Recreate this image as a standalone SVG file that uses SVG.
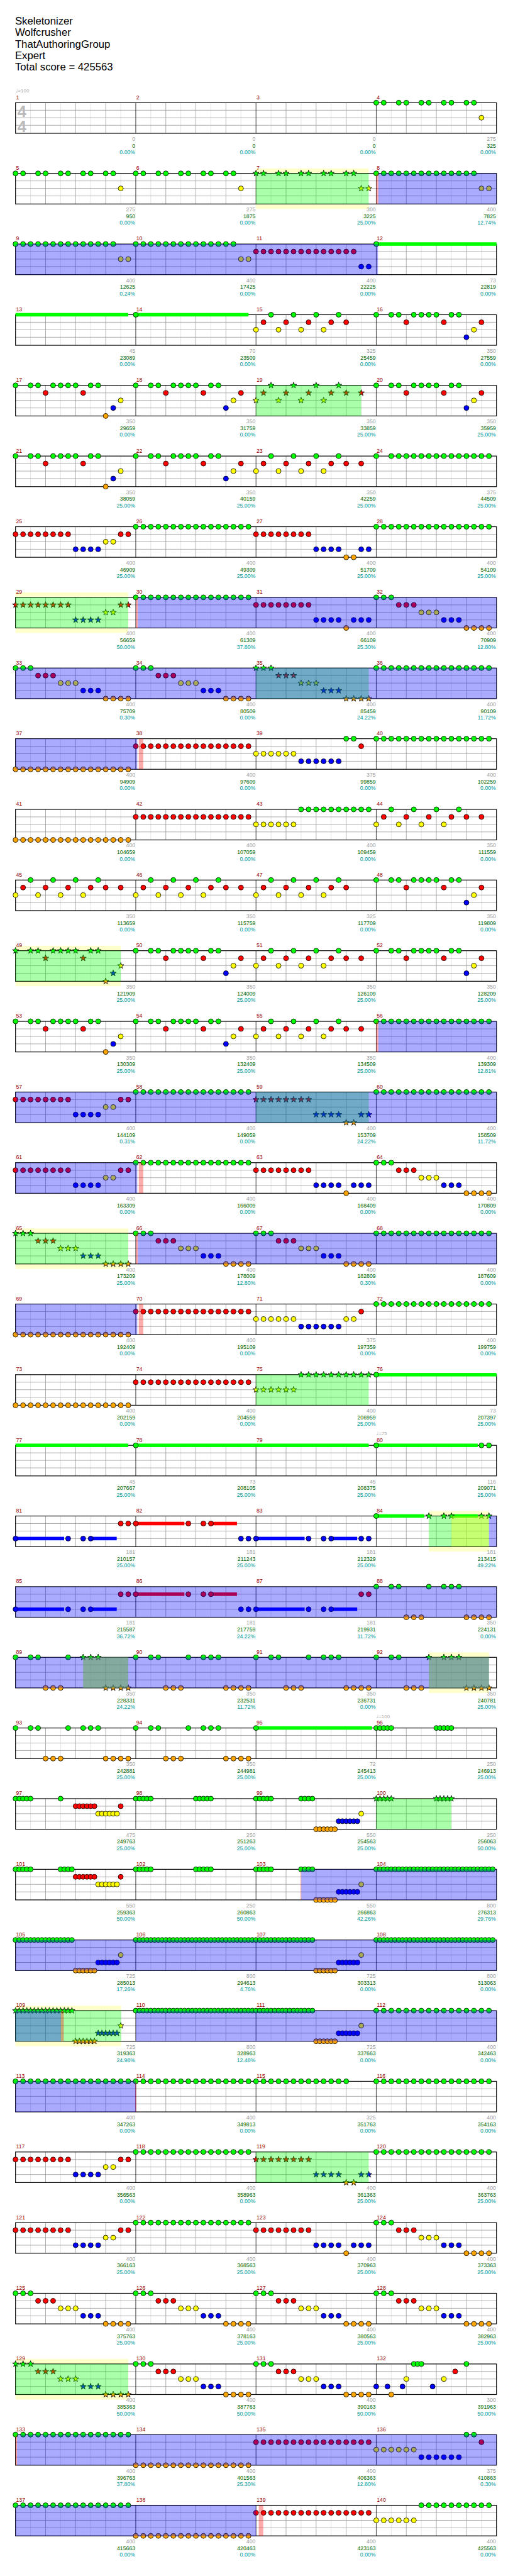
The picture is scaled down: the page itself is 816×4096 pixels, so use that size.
<svg xmlns="http://www.w3.org/2000/svg" width="816" height="4096" viewBox="0 0 816 4096">
<style>
text{font-family:"Liberation Sans",Arial,sans-serif}
.h{font-size:21px;fill:#000}
.mn{font-size:11px;fill:#990000}
.a,.b,.p{font-size:11px;text-anchor:end}
.a{fill:#a0a0a0}.b{fill:#006600}.p{fill:#009999}
.tp{font-size:10px;fill:#aaa}
.ts{font-size:32px;fill:#bbb;font-weight:bold}
.n{stroke:#000;stroke-width:1}
.cg{fill:#0f0}.cr{fill:#f00}.cy{fill:#ff0}.cb{fill:#00f}.co{fill:#ffa500}
.ob{fill:#00f;fill-opacity:.333}.og{fill:#0f0;fill-opacity:.333}.oy{fill:#ff0;fill-opacity:.333}.or{fill:#f00;fill-opacity:.333}
.hl{fill:#ffc}
</style>
<defs>
<circle id="c" r="5"/>
<polygon id="s" points="0,-6.5 1.53,-2.1 6.18,-2 2.47,.8 3.82,5.26 0,2.6 -3.82,5.26 -2.47,.8 -6.18,-2 -1.53,-2.1"/>
<use id="g" href="#c" class="n cg"/><use id="r" href="#c" y="15" class="n cr"/><use id="y" href="#c" y="30" class="n cy"/><use id="b" href="#c" y="45" class="n cb"/><use id="o" href="#c" y="61" class="n co"/>
<use id="G" href="#s" class="n cg"/><use id="R" href="#s" y="15" class="n cr"/><use id="Y" href="#s" y="30" class="n cy"/><use id="B" href="#s" y="45" class="n cb"/><use id="O" href="#s" y="61" class="n co"/>
<g id="g2"><use href="#g"/><use href="#g" x="15"/></g><g id="g4"><use href="#g2"/><use href="#g2" x="30"/></g>
<g id="r2"><use href="#r"/><use href="#r" x="15"/></g><g id="r4"><use href="#r2"/><use href="#r2" x="30"/></g>
<g id="y2"><use href="#y"/><use href="#y" x="15"/></g>
<g id="b2"><use href="#b"/><use href="#b" x="15"/></g><g id="b4"><use href="#b2"/><use href="#b2" x="30"/></g>
<g id="o2"><use href="#o"/><use href="#o" x="15"/></g><g id="o4"><use href="#o2"/><use href="#o2" x="30"/></g>
<g id="G2"><use href="#G"/><use href="#G" x="15"/></g><g id="G4"><use href="#G2"/><use href="#G2" x="30"/></g>
<g id="R2"><use href="#R"/><use href="#R" x="15"/></g><g id="R4"><use href="#R2"/><use href="#R2" x="30"/></g>
<g id="Y2"><use href="#Y"/><use href="#Y" x="15"/></g>
<g id="B2"><use href="#B"/><use href="#B" x="15"/></g><g id="B4"><use href="#B2"/><use href="#B2" x="30"/></g>
<g id="O2"><use href="#O"/><use href="#O" x="15"/></g><g id="O4"><use href="#O2"/><use href="#O2" x="30"/></g>
<g id="fG"><use href="#g4"/><use href="#g4" x="60"/><use href="#g4" x="120"/><use href="#g4" x="180"/></g>
<g id="fR"><use href="#r4"/><use href="#r4" x="60"/><use href="#r4" x="120"/><use href="#r4" x="180"/></g>
<g id="fO"><use href="#o4"/><use href="#o4" x="60"/><use href="#o4" x="120"/><use href="#o4" x="180"/></g>
<g id="pA"><use href="#g2"/><use href="#g2" x="45"/><use href="#g2" x="90"/><use href="#g2" x="135"/><use href="#g2" x="180"/><use href="#y" x="210"/></g>
<g id="pAs"><use href="#G2"/><use href="#G2" x="45"/><use href="#G2" x="90"/><use href="#G2" x="135"/><use href="#G2" x="180"/><use href="#Y2" x="210"/></g>
<g id="g8"><use href="#g4"/><use href="#g4" x="60"/><use href="#g4" x="120"/><use href="#g2" x="180"/><use href="#y2" x="210"/></g>
<g id="r11"><use href="#r4"/><use href="#r4" x="60"/><use href="#r4" x="120"/><use href="#r2" x="180"/><use href="#b2" x="210"/></g>
<g id="pB"><use href="#g"/><use href="#g2" x="30"/><use href="#g4" x="75"/><use href="#g2" x="150"/><use href="#r" x="60"/><use href="#r" x="135"/><use href="#r" x="210"/><use href="#b" x="180"/><use href="#y" x="195"/></g>
<g id="pC"><use href="#g"/><use href="#g2" x="30"/><use href="#g4" x="75"/><use href="#g2" x="150"/><use href="#r" x="60"/><use href="#r" x="135"/><use href="#o" x="180"/><use href="#b" x="195"/><use href="#y" x="210"/></g>
<g id="pCs"><use href="#G"/><use href="#G2" x="30"/><use href="#G4" x="75"/><use href="#G2" x="150"/><use href="#R" x="60"/><use href="#R" x="135"/><use href="#O" x="180"/><use href="#B" x="195"/><use href="#Y" x="210"/></g>
<g id="pE"><use href="#y"/><use href="#y" x="45"/><use href="#y" x="90"/><use href="#y" x="135"/><use href="#r" x="15"/><use href="#r" x="60"/><use href="#r" x="105"/><use href="#r" x="150"/><use href="#r" x="180"/><use href="#g" x="30"/><use href="#g" x="75"/><use href="#g" x="120"/><use href="#g" x="165"/></g>
<g id="pD"><use href="#pE"/><use href="#r" x="210"/></g>
<g id="pDs"><use href="#Y"/><use href="#Y" x="45"/><use href="#Y" x="90"/><use href="#Y" x="135"/><use href="#R" x="15"/><use href="#R" x="60"/><use href="#R" x="105"/><use href="#R" x="150"/><use href="#R" x="180"/><use href="#R" x="210"/><use href="#G" x="30"/><use href="#G" x="75"/><use href="#G" x="120"/><use href="#G" x="165"/></g>
<g id="pF"><use href="#r4"/><use href="#r4" x="60"/><use href="#b4" x="120"/><use href="#y2" x="180"/><use href="#r2" x="210"/></g>
<g id="pFs"><use href="#R4"/><use href="#R4" x="60"/><use href="#B4" x="120"/><use href="#Y2" x="180"/><use href="#R2" x="210"/></g>
<g id="pG"><use href="#r4"/><use href="#r4" x="60"/><use href="#b4" x="120"/><use href="#o2" x="180"/><use href="#b2" x="210"/></g>
<g id="pGs"><use href="#R4"/><use href="#R4" x="60"/><use href="#B4" x="120"/><use href="#O2" x="180"/><use href="#B2" x="210"/></g>
<g id="pH"><use href="#r4"/><use href="#r4" x="60"/><use href="#b4" x="120"/><use href="#o" x="180"/><use href="#b" x="195"/><use href="#b2" x="210"/></g>
<g id="pI"><use href="#g2"/><use href="#g" x="30"/><use href="#r" x="45"/><use href="#r2" x="60"/><use href="#y2" x="90"/><use href="#y" x="120"/><use href="#b" x="135"/><use href="#b2" x="150"/><use href="#o4" x="180"/></g>
<g id="pIs"><use href="#G2"/><use href="#G" x="30"/><use href="#R" x="45"/><use href="#R2" x="60"/><use href="#Y2" x="90"/><use href="#Y" x="120"/><use href="#B" x="135"/><use href="#B2" x="150"/><use href="#O4" x="180"/></g>
<g id="pK"><use href="#y2"/><use href="#y2" x="30"/><use href="#y2" x="60"/><use href="#b2" x="90"/><use href="#b2" x="120"/><use href="#b2" x="150"/><use href="#g2" x="180"/><use href="#r" x="210"/></g>
<g id="pK2"><use href="#y2"/><use href="#y2" x="30"/><use href="#y2" x="60"/><use href="#b2" x="90"/><use href="#b2" x="120"/><use href="#b2" x="150"/><use href="#y2" x="180"/><use href="#r" x="210"/></g>
<g id="pL"><use href="#y2"/><use href="#y2" x="30"/><use href="#y2" x="60"/><use href="#g2" x="90"/><use href="#g4" x="120"/><use href="#g4" x="180"/></g>
<g id="pM"><use href="#g"/><use href="#g2" x="30"/><use href="#g" x="105"/><use href="#g" x="135"/><use href="#g2" x="150"/><use href="#o" x="60"/><use href="#o2" x="75"/><use href="#o4" x="180"/></g>
<g id="pN"><use href="#g"/><use href="#g2" x="30"/><use href="#g4" x="60"/><use href="#g4" x="120"/><use href="#g4" x="180"/></g>
<g id="pP"><rect class="cb" y="41.5" width="97" height="7"/><rect class="cb" x="150" y="41.5" width="52" height="7"/><use href="#b"/><use href="#b" x="105"/><use href="#b" x="135"/><use href="#b" x="150"/><use href="#r2" x="210"/></g>
<g id="pQ"><rect class="cr" y="11.5" width="97" height="7"/><rect class="cr" x="150" y="11.5" width="52" height="7"/><use href="#r"/><use href="#r" x="105"/><use href="#r" x="135"/><use href="#r" x="150"/><use href="#b2" x="210"/></g>
<g id="pR"><rect class="cb" y="41.5" width="97" height="7"/><rect class="cb" x="150" y="41.5" width="52" height="7"/><use href="#b"/><use href="#b" x="105"/><use href="#b" x="135"/><use href="#b" x="150"/><use href="#b2" x="210"/></g>
<g id="g4h"><use href="#g"/><use href="#g" x="7.5"/><use href="#g" x="15"/><use href="#g" x="22.5"/></g>
<g id="gq"><use href="#g4h"/><use href="#g" x="30"/></g>
<g id="g16h"><use href="#g4h"/><use href="#g4h" x="30"/><use href="#g4h" x="60"/><use href="#g4h" x="90"/></g>
<g id="G4h"><use href="#G"/><use href="#G" x="7.5"/><use href="#G" x="15"/><use href="#G" x="22.5"/></g>
<g id="Gq"><use href="#G4h"/><use href="#G" x="30"/></g>
<g id="G16h"><use href="#G4h"/><use href="#G4h" x="30"/><use href="#G4h" x="60"/><use href="#G4h" x="90"/></g>
<g id="r6h"><use href="#r"/><use href="#r" x="7.5"/><use href="#r" x="15"/><use href="#r" x="22.5"/><use href="#r" x="30"/><use href="#r" x="37.5"/></g>
<g id="y6h"><use href="#y"/><use href="#y" x="7.5"/><use href="#y" x="15"/><use href="#y" x="22.5"/><use href="#y" x="30"/><use href="#y" x="37.5"/></g>
<g id="o6h"><use href="#o"/><use href="#o" x="7.5"/><use href="#o" x="15"/><use href="#o" x="22.5"/><use href="#o" x="30"/><use href="#o" x="37.5"/></g>
<g id="b6h"><use href="#b"/><use href="#b" x="7.5"/><use href="#b" x="15"/><use href="#b" x="22.5"/><use href="#b" x="30"/><use href="#b" x="37.5"/></g>
<g id="O6h"><use href="#O"/><use href="#O" x="7.5"/><use href="#O" x="15"/><use href="#O" x="22.5"/><use href="#O" x="30"/><use href="#O" x="37.5"/></g>
<g id="B6h"><use href="#B"/><use href="#B" x="7.5"/><use href="#B" x="15"/><use href="#B" x="22.5"/><use href="#B" x="30"/><use href="#B" x="37.5"/></g>
<g id="q0"><use href="#gq"/><use href="#gq" x="120"/></g>
<g id="q0s"><use href="#Gq"/><use href="#Gq" x="120"/></g>
<g id="q1"><use href="#gq"/><use href="#g" x="90"/><use href="#r6h" x="120"/><use href="#y6h" x="165"/><use href="#r" x="210"/></g>
<g id="q1b"><use href="#gq"/><use href="#g4h" x="90"/><use href="#r6h" x="120"/><use href="#y6h" x="165"/><use href="#r" x="210"/></g>
<g id="q2"><use href="#gq"/><use href="#g4h" x="90"/><use href="#o6h" x="120"/><use href="#b6h" x="165"/><use href="#y" x="210"/></g>
<g id="F32"><use href="#g16h"/><use href="#g16h" x="120"/></g>
<g id="q3"><use href="#g16h"/><use href="#o6h" x="120"/><use href="#b6h" x="165"/><use href="#y" x="210"/></g>
<g id="q3s"><use href="#G16h"/><use href="#O6h" x="120"/><use href="#B6h" x="165"/><use href="#Y" x="210"/></g>
<g id="staff">
<rect x="31" width="960" height="61" fill="#fff"/>
<path d="M61 0V61M121 0V61M181 0V61M241 0V61M301 0V61M361 0V61M421 0V61M481 0V61M541 0V61M601 0V61M661 0V61M721 0V61M781 0V61M841 0V61M901 0V61M961 0V61" stroke="#ddd"/>
<path d="M91 0V61M151 0V61M211 0V61M331 0V61M391 0V61M451 0V61M571 0V61M631 0V61M691 0V61M811 0V61M871 0V61M931 0V61M31 15H991M31 30H991M31 45H991" stroke="#999"/>
<path d="M271 0V61M511 0V61M751 0V61" stroke="#000"/>
<rect x="31" width="960" height="61" fill="none" stroke="#000" stroke-width="1.5"/>
</g>
</defs>
<rect width="816" height="4096" fill="#fff"/>
<g transform="scale(0.796875)">
<g id="header">
<text class="h" x="30" y="49">Skeletonizer</text>
<text class="h" x="30" y="72">Wolfcrusher</text>
<text class="h" x="30" y="95">ThatAuthoringGroup</text>
<text class="h" x="30" y="118">Expert</text>
<text class="h" x="30" y="141">Total score = 425563</text>
</g>

<g id="row0" transform="translate(0,205)">
<use href="#staff"/>
<text class="tp" x="31" y="-20"><tspan font-family="DejaVu Sans">♩</tspan>=100</text>
<text class="ts" x="35" y="28">4</text><text class="ts" x="35" y="58">4</text>
<text class="mn" x="32" y="-7">1</text><text class="mn" x="272" y="-7">2</text><text class="mn" x="512" y="-7">3</text><text class="mn" x="752" y="-7">4</text>
<use id="m4" href="#pA" x="751"/>
<text class="a" x="270" y="76">0</text><text class="b" x="270" y="89.5">0</text><text class="p" x="270" y="102.5">0.00%</text>
<text class="a" x="510" y="76">0</text><text class="b" x="510" y="89.5">0</text><text class="p" x="510" y="102.5">0.00%</text>
<text class="a" x="750" y="76">0</text><text class="b" x="750" y="89.5">0</text><text class="p" x="750" y="102.5">0.00%</text>
<text class="a" x="990" y="76">275</text><text class="b" x="990" y="89.5">325</text><text class="p" x="990" y="102.5">0.00%</text>
</g>

<g id="row1" transform="translate(0,346)">
<rect class="hl" x="511" y="-10" width="225" height="81"/>
<use href="#staff"/>
<text class="mn" x="32" y="-7">5</text><text class="mn" x="272" y="-7">6</text><text class="mn" x="512" y="-7">7</text><text class="mn" x="752" y="-7">8</text>
<use id="m5" href="#pA" x="31"/><use id="m6" href="#pA" x="271"/><use id="m7" href="#pAs" x="511"/><use id="m8" href="#g8" x="751"/>
<rect class="og" x="511" width="225" height="61"/><rect class="or" x="751" width="4" height="61"/><rect class="ob" x="755" width="236" height="61"/>
<text class="a" x="270" y="76">275</text><text class="b" x="270" y="89.5">950</text><text class="p" x="270" y="102.5">0.00%</text>
<text class="a" x="510" y="76">275</text><text class="b" x="510" y="89.5">1875</text><text class="p" x="510" y="102.5">0.00%</text>
<text class="a" x="750" y="76">300</text><text class="b" x="750" y="89.5">3225</text><text class="p" x="750" y="102.5">25.00%</text>
<text class="a" x="990" y="76">400</text><text class="b" x="990" y="89.5">7825</text><text class="p" x="990" y="102.5">12.74%</text>
</g>

<g id="row2" transform="translate(0,487)">
<use href="#staff"/>
<text class="mn" x="32" y="-7">9</text><text class="mn" x="272" y="-7">10</text><text class="mn" x="512" y="-7">11</text><text class="mn" x="752" y="-7">12</text>
<use id="m9" href="#g8" x="31"/><use id="m10" href="#g8" x="271"/><use id="m11" href="#r11" x="511"/>
<g id="m12"><rect class="cg" x="751" y="-3.5" width="240" height="7"/><use href="#g" x="751"/></g>
<rect class="ob" x="31" width="723.5" height="61"/>
<text class="a" x="270" y="76">400</text><text class="b" x="270" y="89.5">12625</text><text class="p" x="270" y="102.5">0.24%</text>
<text class="a" x="510" y="76">400</text><text class="b" x="510" y="89.5">17425</text><text class="p" x="510" y="102.5">0.00%</text>
<text class="a" x="750" y="76">400</text><text class="b" x="750" y="89.5">22225</text><text class="p" x="750" y="102.5">0.00%</text>
<text class="a" x="990" y="76">73</text><text class="b" x="990" y="89.5">22819</text><text class="p" x="990" y="102.5">0.00%</text>
</g>

<g id="row3" transform="translate(0,628)">
<use href="#staff"/>
<text class="mn" x="32" y="-7">13</text><text class="mn" x="272" y="-7">14</text><text class="mn" x="512" y="-7">15</text><text class="mn" x="752" y="-7">16</text>
<rect id="m13" class="cg" x="31" y="-3.5" width="225" height="7"/>
<g id="m14"><rect class="cg" x="271" y="-3.5" width="225" height="7"/><use href="#g" x="271"/></g>
<use id="m15" href="#pE" x="511"/><use id="m16" href="#pB" x="751"/>
<text class="a" x="270" y="76">45</text><text class="b" x="270" y="89.5">23089</text><text class="p" x="270" y="102.5">0.00%</text>
<text class="a" x="510" y="76">70</text><text class="b" x="510" y="89.5">23509</text><text class="p" x="510" y="102.5">0.00%</text>
<text class="a" x="750" y="76">325</text><text class="b" x="750" y="89.5">25459</text><text class="p" x="750" y="102.5">0.00%</text>
<text class="a" x="990" y="76">350</text><text class="b" x="990" y="89.5">27559</text><text class="p" x="990" y="102.5">0.00%</text>
</g>

<g id="row4" transform="translate(0,769)">
<use href="#staff"/>
<text class="mn" x="32" y="-7">17</text><text class="mn" x="272" y="-7">18</text><text class="mn" x="512" y="-7">19</text><text class="mn" x="752" y="-7">20</text>
<use id="m17" href="#pC" x="31"/><use id="m18" href="#pB" x="271"/><use id="m19" href="#pDs" x="511"/><use id="m20" href="#pB" x="751"/>
<rect class="og" x="511" width="210" height="61"/>
<text class="a" x="270" y="76">350</text><text class="b" x="270" y="89.5">29659</text><text class="p" x="270" y="102.5">0.00%</text>
<text class="a" x="510" y="76">350</text><text class="b" x="510" y="89.5">31759</text><text class="p" x="510" y="102.5">0.00%</text>
<text class="a" x="750" y="76">350</text><text class="b" x="750" y="89.5">33859</text><text class="p" x="750" y="102.5">25.00%</text>
<text class="a" x="990" y="76">350</text><text class="b" x="990" y="89.5">35959</text><text class="p" x="990" y="102.5">25.00%</text>
</g>

<g id="row5" transform="translate(0,910)">
<use href="#staff"/>
<text class="mn" x="32" y="-7">21</text><text class="mn" x="272" y="-7">22</text><text class="mn" x="512" y="-7">23</text><text class="mn" x="752" y="-7">24</text>
<use id="m21" href="#pC" x="31"/><use id="m22" href="#pB" x="271"/><use id="m23" href="#pD" x="511"/><use id="m24" href="#pN" x="751"/>
<text class="a" x="270" y="76">350</text><text class="b" x="270" y="89.5">38059</text><text class="p" x="270" y="102.5">25.00%</text>
<text class="a" x="510" y="76">350</text><text class="b" x="510" y="89.5">40159</text><text class="p" x="510" y="102.5">25.00%</text>
<text class="a" x="750" y="76">350</text><text class="b" x="750" y="89.5">42259</text><text class="p" x="750" y="102.5">25.00%</text>
<text class="a" x="990" y="76">375</text><text class="b" x="990" y="89.5">44509</text><text class="p" x="990" y="102.5">25.00%</text>
</g>

<g id="row6" transform="translate(0,1051)">
<use href="#staff"/>
<text class="mn" x="32" y="-7">25</text><text class="mn" x="272" y="-7">26</text><text class="mn" x="512" y="-7">27</text><text class="mn" x="752" y="-7">28</text>
<use id="m25" href="#pF" x="31"/><use id="m26" href="#fG" x="271"/><use id="m27" href="#pG" x="511"/><use id="m28" href="#fG" x="751"/>
<text class="a" x="270" y="76">400</text><text class="b" x="270" y="89.5">46909</text><text class="p" x="270" y="102.5">25.00%</text>
<text class="a" x="510" y="76">400</text><text class="b" x="510" y="89.5">49309</text><text class="p" x="510" y="102.5">25.00%</text>
<text class="a" x="750" y="76">400</text><text class="b" x="750" y="89.5">51709</text><text class="p" x="750" y="102.5">25.00%</text>
<text class="a" x="990" y="76">400</text><text class="b" x="990" y="89.5">54109</text><text class="p" x="990" y="102.5">25.00%</text>
</g>

<g id="row7" transform="translate(0,1192)">
<rect class="hl" x="31" y="-10" width="225" height="81"/>
<use href="#staff"/>
<text class="mn" x="32" y="-7">29</text><text class="mn" x="272" y="-7">30</text><text class="mn" x="512" y="-7">31</text><text class="mn" x="752" y="-7">32</text>
<use id="m29" href="#pFs" x="31"/><use id="m30" href="#fG" x="271"/><use id="m31" href="#pH" x="511"/><use id="m32" href="#pI" x="751"/>
<rect class="og" x="31" width="225" height="61"/><rect class="or" x="271" width="4" height="61"/><rect class="ob" x="275" width="716" height="61"/>
<text class="a" x="270" y="76">400</text><text class="b" x="270" y="89.5">56659</text><text class="p" x="270" y="102.5">50.00%</text>
<text class="a" x="510" y="76">400</text><text class="b" x="510" y="89.5">61309</text><text class="p" x="510" y="102.5">37.80%</text>
<text class="a" x="750" y="76">400</text><text class="b" x="750" y="89.5">66109</text><text class="p" x="750" y="102.5">25.30%</text>
<text class="a" x="990" y="76">400</text><text class="b" x="990" y="89.5">70909</text><text class="p" x="990" y="102.5">12.80%</text>
</g>

<g id="row8" transform="translate(0,1333)">
<use href="#staff"/>
<text class="mn" x="32" y="-7">33</text><text class="mn" x="272" y="-7">34</text><text class="mn" x="512" y="-7">35</text><text class="mn" x="752" y="-7">36</text>
<use id="m33" href="#pI" x="31"/><use id="m34" href="#pI" x="271"/><use id="m35" href="#pIs" x="511"/><use id="m36" href="#fG" x="751"/>
<rect class="og" x="511" width="225" height="61"/><rect class="ob" x="31" width="960" height="61"/>
<text class="a" x="270" y="76">400</text><text class="b" x="270" y="89.5">75709</text><text class="p" x="270" y="102.5">0.30%</text>
<text class="a" x="510" y="76">400</text><text class="b" x="510" y="89.5">80509</text><text class="p" x="510" y="102.5">0.00%</text>
<text class="a" x="750" y="76">400</text><text class="b" x="750" y="89.5">85459</text><text class="p" x="750" y="102.5">24.22%</text>
<text class="a" x="990" y="76">400</text><text class="b" x="990" y="89.5">90109</text><text class="p" x="990" y="102.5">11.72%</text>
</g>

<g id="row9" transform="translate(0,1474)">
<use href="#staff"/>
<text class="mn" x="32" y="-7">37</text><text class="mn" x="272" y="-7">38</text><text class="mn" x="512" y="-7">39</text><text class="mn" x="752" y="-7">40</text>
<use id="m37" href="#fO" x="31"/><use id="m38" href="#fR" x="271"/><use id="m39" href="#pK" x="511"/><use id="m40" href="#fG" x="751"/>
<rect class="ob" x="31" width="243" height="61"/><rect class="or" x="277" width="9" height="61"/>
<text class="a" x="270" y="76">400</text><text class="b" x="270" y="89.5">94909</text><text class="p" x="270" y="102.5">0.00%</text>
<text class="a" x="510" y="76">400</text><text class="b" x="510" y="89.5">97609</text><text class="p" x="510" y="102.5">0.00%</text>
<text class="a" x="750" y="76">375</text><text class="b" x="750" y="89.5">99859</text><text class="p" x="750" y="102.5">0.00%</text>
<text class="a" x="990" y="76">400</text><text class="b" x="990" y="89.5">102259</text><text class="p" x="990" y="102.5">0.00%</text>
</g>

<g id="row10" transform="translate(0,1615)">
<use href="#staff"/>
<text class="mn" x="32" y="-7">41</text><text class="mn" x="272" y="-7">42</text><text class="mn" x="512" y="-7">43</text><text class="mn" x="752" y="-7">44</text>
<use id="m41" href="#fO" x="31"/><use id="m42" href="#fR" x="271"/><use id="m43" href="#pL" x="511"/><use id="m44" href="#pD" x="751"/>
<text class="a" x="270" y="76">400</text><text class="b" x="270" y="89.5">104659</text><text class="p" x="270" y="102.5">0.00%</text>
<text class="a" x="510" y="76">400</text><text class="b" x="510" y="89.5">107059</text><text class="p" x="510" y="102.5">0.00%</text>
<text class="a" x="750" y="76">400</text><text class="b" x="750" y="89.5">109459</text><text class="p" x="750" y="102.5">0.00%</text>
<text class="a" x="990" y="76">350</text><text class="b" x="990" y="89.5">111559</text><text class="p" x="990" y="102.5">0.00%</text>
</g>

<g id="row11" transform="translate(0,1756)">
<use href="#staff"/>
<text class="mn" x="32" y="-7">45</text><text class="mn" x="272" y="-7">46</text><text class="mn" x="512" y="-7">47</text><text class="mn" x="752" y="-7">48</text>
<use id="m45" href="#pD" x="31"/><use id="m46" href="#pD" x="271"/><use id="m47" href="#pE" x="511"/><use id="m48" href="#pB" x="751"/>
<text class="a" x="270" y="76">350</text><text class="b" x="270" y="89.5">113659</text><text class="p" x="270" y="102.5">0.00%</text>
<text class="a" x="510" y="76">350</text><text class="b" x="510" y="89.5">115759</text><text class="p" x="510" y="102.5">0.00%</text>
<text class="a" x="750" y="76">325</text><text class="b" x="750" y="89.5">117709</text><text class="p" x="750" y="102.5">0.00%</text>
<text class="a" x="990" y="76">350</text><text class="b" x="990" y="89.5">119809</text><text class="p" x="990" y="102.5">0.00%</text>
</g>

<g id="row12" transform="translate(0,1897)">
<rect class="hl" x="31" y="-10" width="210" height="81"/>
<use href="#staff"/>
<text class="mn" x="32" y="-7">49</text><text class="mn" x="272" y="-7">50</text><text class="mn" x="512" y="-7">51</text><text class="mn" x="752" y="-7">52</text>
<use id="m49" href="#pCs" x="31"/><use id="m50" href="#pB" x="271"/><use id="m51" href="#pD" x="511"/><use id="m52" href="#pB" x="751"/>
<rect class="og" x="31" width="210" height="61"/>
<text class="a" x="270" y="76">350</text><text class="b" x="270" y="89.5">121909</text><text class="p" x="270" y="102.5">25.00%</text>
<text class="a" x="510" y="76">350</text><text class="b" x="510" y="89.5">124009</text><text class="p" x="510" y="102.5">25.00%</text>
<text class="a" x="750" y="76">350</text><text class="b" x="750" y="89.5">126109</text><text class="p" x="750" y="102.5">25.00%</text>
<text class="a" x="990" y="76">350</text><text class="b" x="990" y="89.5">128209</text><text class="p" x="990" y="102.5">25.00%</text>
</g>

<g id="row13" transform="translate(0,2038)">
<use href="#staff"/>
<text class="mn" x="32" y="-7">53</text><text class="mn" x="272" y="-7">54</text><text class="mn" x="512" y="-7">55</text><text class="mn" x="752" y="-7">56</text>
<use id="m53" href="#pC" x="31"/><use id="m54" href="#pB" x="271"/><use id="m55" href="#pD" x="511"/><use id="m56" href="#fG" x="751"/>
<rect class="or" x="751" width="4" height="61"/><rect class="ob" x="755" width="236" height="61"/>
<text class="a" x="270" y="76">350</text><text class="b" x="270" y="89.5">130309</text><text class="p" x="270" y="102.5">25.00%</text>
<text class="a" x="510" y="76">350</text><text class="b" x="510" y="89.5">132409</text><text class="p" x="510" y="102.5">25.00%</text>
<text class="a" x="750" y="76">350</text><text class="b" x="750" y="89.5">134509</text><text class="p" x="750" y="102.5">25.00%</text>
<text class="a" x="990" y="76">400</text><text class="b" x="990" y="89.5">139309</text><text class="p" x="990" y="102.5">12.81%</text>
</g>

<g id="row14" transform="translate(0,2179)">
<use href="#staff"/>
<text class="mn" x="32" y="-7">57</text><text class="mn" x="272" y="-7">58</text><text class="mn" x="512" y="-7">59</text><text class="mn" x="752" y="-7">60</text>
<use id="m57" href="#pF" x="31"/><use id="m58" href="#fG" x="271"/><use id="m59" href="#pGs" x="511"/><use id="m60" href="#fG" x="751"/>
<rect class="og" x="511" width="225" height="61"/><rect class="ob" x="31" width="960" height="61"/>
<text class="a" x="270" y="76">400</text><text class="b" x="270" y="89.5">144109</text><text class="p" x="270" y="102.5">0.31%</text>
<text class="a" x="510" y="76">400</text><text class="b" x="510" y="89.5">149059</text><text class="p" x="510" y="102.5">0.00%</text>
<text class="a" x="750" y="76">400</text><text class="b" x="750" y="89.5">153709</text><text class="p" x="750" y="102.5">24.22%</text>
<text class="a" x="990" y="76">400</text><text class="b" x="990" y="89.5">158509</text><text class="p" x="990" y="102.5">11.72%</text>
</g>

<g id="row15" transform="translate(0,2320)">
<use href="#staff"/>
<text class="mn" x="32" y="-7">61</text><text class="mn" x="272" y="-7">62</text><text class="mn" x="512" y="-7">63</text><text class="mn" x="752" y="-7">64</text>
<use id="m61" href="#pF" x="31"/><use id="m62" href="#fG" x="271"/><use id="m63" href="#pH" x="511"/><use id="m64" href="#pI" x="751"/>
<rect class="ob" x="31" width="243" height="61"/><rect class="or" x="277" width="9" height="61"/>
<text class="a" x="270" y="76">400</text><text class="b" x="270" y="89.5">163309</text><text class="p" x="270" y="102.5">0.00%</text>
<text class="a" x="510" y="76">400</text><text class="b" x="510" y="89.5">166009</text><text class="p" x="510" y="102.5">0.00%</text>
<text class="a" x="750" y="76">400</text><text class="b" x="750" y="89.5">168409</text><text class="p" x="750" y="102.5">0.00%</text>
<text class="a" x="990" y="76">400</text><text class="b" x="990" y="89.5">170809</text><text class="p" x="990" y="102.5">0.00%</text>
</g>

<g id="row16" transform="translate(0,2461)">
<rect class="hl" x="31" y="-10" width="225" height="81"/>
<use href="#staff"/>
<text class="mn" x="32" y="-7">65</text><text class="mn" x="272" y="-7">66</text><text class="mn" x="512" y="-7">67</text><text class="mn" x="752" y="-7">68</text>
<use id="m65" href="#pIs" x="31"/><use id="m66" href="#pI" x="271"/><use id="m67" href="#pI" x="511"/><use id="m68" href="#fG" x="751"/>
<rect class="og" x="31" width="225" height="61"/><rect class="or" x="271" width="4" height="61"/><rect class="ob" x="275" width="716" height="61"/>
<text class="a" x="270" y="76">400</text><text class="b" x="270" y="89.5">173209</text><text class="p" x="270" y="102.5">25.00%</text>
<text class="a" x="510" y="76">400</text><text class="b" x="510" y="89.5">178009</text><text class="p" x="510" y="102.5">12.80%</text>
<text class="a" x="750" y="76">400</text><text class="b" x="750" y="89.5">182809</text><text class="p" x="750" y="102.5">0.30%</text>
<text class="a" x="990" y="76">400</text><text class="b" x="990" y="89.5">187609</text><text class="p" x="990" y="102.5">0.00%</text>
</g>

<g id="row17" transform="translate(0,2602)">
<use href="#staff"/>
<text class="mn" x="32" y="-7">69</text><text class="mn" x="272" y="-7">70</text><text class="mn" x="512" y="-7">71</text><text class="mn" x="752" y="-7">72</text>
<use id="m69" href="#fO" x="31"/><use id="m70" href="#fR" x="271"/><use id="m71" href="#pK2" x="511"/><use id="m72" href="#fG" x="751"/>
<rect class="ob" x="31" width="243" height="61"/><rect class="or" x="277" width="9" height="61"/>
<text class="a" x="270" y="76">400</text><text class="b" x="270" y="89.5">192409</text><text class="p" x="270" y="102.5">0.00%</text>
<text class="a" x="510" y="76">400</text><text class="b" x="510" y="89.5">195109</text><text class="p" x="510" y="102.5">0.00%</text>
<text class="a" x="750" y="76">375</text><text class="b" x="750" y="89.5">197359</text><text class="p" x="750" y="102.5">0.00%</text>
<text class="a" x="990" y="76">400</text><text class="b" x="990" y="89.5">199759</text><text class="p" x="990" y="102.5">0.00%</text>
</g>

<g id="row18" transform="translate(0,2743)">
<use href="#staff"/>
<text class="mn" x="32" y="-7">73</text><text class="mn" x="272" y="-7">74</text><text class="mn" x="512" y="-7">75</text><text class="mn" x="752" y="-7">76</text>
<use id="m73" href="#fO" x="31"/><use id="m74" href="#fR" x="271"/>
<g id="m75" transform="translate(511,0)"><use href="#Y2"/><use href="#Y2" x="30"/><use href="#Y2" x="60"/><use href="#G2" x="90"/><use href="#G4" x="120"/><use href="#G4" x="180"/></g>
<g id="m76"><rect class="cg" x="751" y="-3.5" width="240" height="7"/><use href="#g" x="751"/></g>
<rect class="og" x="511" width="225" height="61"/>
<text class="a" x="270" y="76">400</text><text class="b" x="270" y="89.5">202159</text><text class="p" x="270" y="102.5">0.00%</text>
<text class="a" x="510" y="76">400</text><text class="b" x="510" y="89.5">204559</text><text class="p" x="510" y="102.5">0.00%</text>
<text class="a" x="750" y="76">400</text><text class="b" x="750" y="89.5">206959</text><text class="p" x="750" y="102.5">25.00%</text>
<text class="a" x="990" y="76">73</text><text class="b" x="990" y="89.5">207397</text><text class="p" x="990" y="102.5">25.00%</text>
</g>

<g id="row19" transform="translate(0,2884)">
<use href="#staff"/>
<text class="tp" x="751" y="-20"><tspan font-family="DejaVu Sans">♩</tspan>=75</text>
<text class="mn" x="32" y="-7">77</text><text class="mn" x="272" y="-7">78</text><text class="mn" x="512" y="-7">79</text><text class="mn" x="752" y="-7">80</text>
<rect id="m77" class="cg" x="31" y="-3.5" width="225" height="7"/>
<g id="m78"><rect class="cg" x="271" y="-3.5" width="465" height="7"/><use href="#g" x="271"/></g>
<g id="m80"><rect class="cg" x="751" y="-3.5" width="202.5" height="7"/><use href="#g" x="751"/><use href="#g2" x="961"/></g>
<text class="a" x="270" y="76">45</text><text class="b" x="270" y="89.5">207667</text><text class="p" x="270" y="102.5">25.00%</text>
<text class="a" x="510" y="76">73</text><text class="b" x="510" y="89.5">208105</text><text class="p" x="510" y="102.5">25.00%</text>
<text class="a" x="750" y="76">45</text><text class="b" x="750" y="89.5">208375</text><text class="p" x="750" y="102.5">25.00%</text>
<text class="a" x="990" y="76">116</text><text class="b" x="990" y="89.5">209071</text><text class="p" x="990" y="102.5">25.00%</text>
</g>

<g id="row20" transform="translate(0,3025)">
<rect class="hl" x="856" y="-10" width="120" height="81"/>
<use href="#staff"/>
<text class="mn" x="32" y="-7">81</text><text class="mn" x="272" y="-7">82</text><text class="mn" x="512" y="-7">83</text><text class="mn" x="752" y="-7">84</text>
<use id="m81" href="#pP" x="31"/><use id="m82" href="#pQ" x="271"/><use id="m83" href="#pR" x="511"/>
<g id="m84" transform="translate(751,0)"><rect class="cg" y="-3.5" width="96" height="7"/><rect class="cg" x="150" y="-3.5" width="52.5" height="7"/><use href="#g"/><use href="#G" x="105"/><use href="#G" x="135"/><use href="#G" x="150"/><use href="#G2" x="210"/></g>
<rect class="og" x="856" width="120" height="61"/><rect class="oy" x="901" width="75" height="61"/><rect class="ob" x="976" width="15" height="61"/>
<text class="a" x="270" y="76">181</text><text class="b" x="270" y="89.5">210157</text><text class="p" x="270" y="102.5">25.00%</text>
<text class="a" x="510" y="76">181</text><text class="b" x="510" y="89.5">211243</text><text class="p" x="510" y="102.5">25.00%</text>
<text class="a" x="750" y="76">181</text><text class="b" x="750" y="89.5">212329</text><text class="p" x="750" y="102.5">25.00%</text>
<text class="a" x="990" y="76">181</text><text class="b" x="990" y="89.5">213415</text><text class="p" x="990" y="102.5">49.22%</text>
</g>

<g id="row21" transform="translate(0,3166)">
<use href="#staff"/>
<text class="mn" x="32" y="-7">85</text><text class="mn" x="272" y="-7">86</text><text class="mn" x="512" y="-7">87</text><text class="mn" x="752" y="-7">88</text>
<use id="m85" href="#pP" x="31"/><use id="m86" href="#pQ" x="271"/><use id="m87" href="#pP" x="511"/><use id="m88" href="#pM" x="751"/>
<rect class="ob" x="31" width="960" height="61"/>
<text class="a" x="270" y="76">181</text><text class="b" x="270" y="89.5">215587</text><text class="p" x="270" y="102.5">36.72%</text>
<text class="a" x="510" y="76">181</text><text class="b" x="510" y="89.5">217759</text><text class="p" x="510" y="102.5">24.22%</text>
<text class="a" x="750" y="76">181</text><text class="b" x="750" y="89.5">219931</text><text class="p" x="750" y="102.5">11.72%</text>
<text class="a" x="990" y="76">350</text><text class="b" x="990" y="89.5">224131</text><text class="p" x="990" y="102.5">0.00%</text>
</g>

<g id="row22" transform="translate(0,3307)">
<rect class="hl" x="856" y="-10" width="120" height="81"/>
<use href="#staff"/>
<text class="mn" x="32" y="-7">89</text><text class="mn" x="272" y="-7">90</text><text class="mn" x="512" y="-7">91</text><text class="mn" x="752" y="-7">92</text>
<g id="m89" transform="translate(31,0)"><use href="#g"/><use href="#g2" x="30"/><use href="#g" x="105"/><use href="#o" x="60"/><use href="#o2" x="75"/><use href="#G" x="135"/><use href="#G2" x="150"/><use href="#O4" x="180"/></g>
<use id="m90" href="#pM" x="271"/><use id="m91" href="#pM" x="511"/>
<g id="m92" transform="translate(751,0)"><use href="#g"/><use href="#g2" x="30"/><use href="#o" x="60"/><use href="#o2" x="75"/><use href="#G" x="105"/><use href="#G" x="135"/><use href="#G2" x="150"/><use href="#O4" x="180"/></g>
<rect class="og" x="166" width="90" height="61"/><rect class="oy" x="166" width="90" height="61"/><rect class="og" x="856" width="120" height="61"/><rect class="oy" x="856" width="120" height="61"/><rect class="ob" x="31" width="945" height="61"/>
<text class="a" x="270" y="76">350</text><text class="b" x="270" y="89.5">228331</text><text class="p" x="270" y="102.5">24.22%</text>
<text class="a" x="510" y="76">350</text><text class="b" x="510" y="89.5">232531</text><text class="p" x="510" y="102.5">11.72%</text>
<text class="a" x="750" y="76">350</text><text class="b" x="750" y="89.5">236731</text><text class="p" x="750" y="102.5">0.00%</text>
<text class="a" x="990" y="76">350</text><text class="b" x="990" y="89.5">240781</text><text class="p" x="990" y="102.5">25.00%</text>
</g>

<g id="row23" transform="translate(0,3448)">
<use href="#staff"/>
<text class="tp" x="751" y="-20"><tspan font-family="DejaVu Sans">♩</tspan>=100</text>
<text class="mn" x="32" y="-7">93</text><text class="mn" x="272" y="-7">94</text><text class="mn" x="512" y="-7">95</text><text class="mn" x="752" y="-7">96</text>
<use id="m93" href="#pM" x="31"/><use id="m94" href="#pM" x="271"/>
<g id="m95"><rect class="cg" x="511" y="-3.5" width="231.6" height="7"/><use href="#g" x="511"/></g>
<use id="m96" href="#q0" x="751"/>
<text class="a" x="270" y="76">350</text><text class="b" x="270" y="89.5">242881</text><text class="p" x="270" y="102.5">25.00%</text>
<text class="a" x="510" y="76">350</text><text class="b" x="510" y="89.5">244981</text><text class="p" x="510" y="102.5">25.00%</text>
<text class="a" x="750" y="76">72</text><text class="b" x="750" y="89.5">245413</text><text class="p" x="750" y="102.5">25.00%</text>
<text class="a" x="990" y="76">250</text><text class="b" x="990" y="89.5">246913</text><text class="p" x="990" y="102.5">25.00%</text>
</g>

<g id="row24" transform="translate(0,3589)">
<use href="#staff"/>
<text class="mn" x="32" y="-7">97</text><text class="mn" x="272" y="-7">98</text><text class="mn" x="512" y="-7">99</text><text class="mn" x="752" y="-7">100</text>
<use id="m97" href="#q1" x="31"/><use id="m98" href="#q0" x="271"/><use id="m99" href="#q2" x="511"/><use id="m100" href="#q0s" x="751"/>
<rect class="og" x="751" width="150" height="61"/>
<text class="a" x="270" y="76">475</text><text class="b" x="270" y="89.5">249763</text><text class="p" x="270" y="102.5">25.00%</text>
<text class="a" x="510" y="76">250</text><text class="b" x="510" y="89.5">251263</text><text class="p" x="510" y="102.5">25.00%</text>
<text class="a" x="750" y="76">550</text><text class="b" x="750" y="89.5">254563</text><text class="p" x="750" y="102.5">25.00%</text>
<text class="a" x="990" y="76">250</text><text class="b" x="990" y="89.5">256063</text><text class="p" x="990" y="102.5">50.00%</text>
</g>

<g id="row25" transform="translate(0,3730)">
<use href="#staff"/>
<text class="mn" x="32" y="-7">101</text><text class="mn" x="272" y="-7">102</text><text class="mn" x="512" y="-7">103</text><text class="mn" x="752" y="-7">104</text>
<use id="m101" href="#q1b" x="31"/><use id="m102" href="#q0" x="271"/><use id="m103" href="#q2" x="511"/><use id="m104" href="#F32" x="751"/>
<rect class="or" x="600" width="1.5" height="61"/><rect class="ob" x="601.5" width="389.5" height="61"/>
<text class="a" x="270" y="76">550</text><text class="b" x="270" y="89.5">259363</text><text class="p" x="270" y="102.5">50.00%</text>
<text class="a" x="510" y="76">250</text><text class="b" x="510" y="89.5">260863</text><text class="p" x="510" y="102.5">50.00%</text>
<text class="a" x="750" y="76">550</text><text class="b" x="750" y="89.5">266863</text><text class="p" x="750" y="102.5">42.26%</text>
<text class="a" x="990" y="76">800</text><text class="b" x="990" y="89.5">276313</text><text class="p" x="990" y="102.5">29.76%</text>
</g>

<g id="row26" transform="translate(0,3871)">
<use href="#staff"/>
<text class="mn" x="32" y="-7">105</text><text class="mn" x="272" y="-7">106</text><text class="mn" x="512" y="-7">107</text><text class="mn" x="752" y="-7">108</text>
<use id="m105" href="#q3" x="31"/><use id="m106" href="#F32" x="271"/><use id="m107" href="#q3" x="511"/><use id="m108" href="#F32" x="751"/>
<rect class="ob" x="31" width="960" height="61"/>
<text class="a" x="270" y="76">725</text><text class="b" x="270" y="89.5">285013</text><text class="p" x="270" y="102.5">17.26%</text>
<text class="a" x="510" y="76">800</text><text class="b" x="510" y="89.5">294613</text><text class="p" x="510" y="102.5">4.76%</text>
<text class="a" x="750" y="76">725</text><text class="b" x="750" y="89.5">303313</text><text class="p" x="750" y="102.5">0.00%</text>
<text class="a" x="990" y="76">800</text><text class="b" x="990" y="89.5">313063</text><text class="p" x="990" y="102.5">0.00%</text>
</g>

<g id="row27" transform="translate(0,4012)">
<rect class="hl" x="31" y="-10" width="210.6" height="81"/>
<use href="#staff"/>
<text class="mn" x="32" y="-7">109</text><text class="mn" x="272" y="-7">110</text><text class="mn" x="512" y="-7">111</text><text class="mn" x="752" y="-7">112</text>
<use id="m109" href="#q3s" x="31"/><use id="m110" href="#F32" x="271"/><use id="m111" href="#q3" x="511"/><use id="m112" href="#fG" x="751"/>
<rect class="og" x="31" width="210.6" height="61"/><rect class="ob" x="31" width="90.5" height="61"/><rect class="or" x="121.5" width="5.8" height="61"/><rect class="ob" x="271" width="720" height="61"/>
<text class="a" x="270" y="76">725</text><text class="b" x="270" y="89.5">319363</text><text class="p" x="270" y="102.5">24.98%</text>
<text class="a" x="510" y="76">800</text><text class="b" x="510" y="89.5">328963</text><text class="p" x="510" y="102.5">12.48%</text>
<text class="a" x="750" y="76">725</text><text class="b" x="750" y="89.5">337663</text><text class="p" x="750" y="102.5">0.00%</text>
<text class="a" x="990" y="76">400</text><text class="b" x="990" y="89.5">342463</text><text class="p" x="990" y="102.5">0.00%</text>
</g>

<g id="row28" transform="translate(0,4153)">
<use href="#staff"/>
<text class="mn" x="32" y="-7">113</text><text class="mn" x="272" y="-7">114</text><text class="mn" x="512" y="-7">115</text><text class="mn" x="752" y="-7">116</text>
<use id="m113" href="#fG" x="31"/><use id="m114" href="#fG" x="271"/>
<g id="m115" transform="translate(511,0)"><use href="#g4"/><use href="#g4" x="60"/><use href="#g4" x="120"/><use href="#g" x="180"/></g>
<use id="m116" href="#fG" x="751"/>
<rect class="ob" x="31" width="240" height="61"/><rect class="or" x="270" width="2" height="61"/>
<text class="a" x="270" y="76">400</text><text class="b" x="270" y="89.5">347263</text><text class="p" x="270" y="102.5">0.00%</text>
<text class="a" x="510" y="76">400</text><text class="b" x="510" y="89.5">349813</text><text class="p" x="510" y="102.5">0.00%</text>
<text class="a" x="750" y="76">325</text><text class="b" x="750" y="89.5">351763</text><text class="p" x="750" y="102.5">0.00%</text>
<text class="a" x="990" y="76">400</text><text class="b" x="990" y="89.5">354163</text><text class="p" x="990" y="102.5">0.00%</text>
</g>

<g id="row29" transform="translate(0,4294)">
<use href="#staff"/>
<text class="mn" x="32" y="-7">117</text><text class="mn" x="272" y="-7">118</text><text class="mn" x="512" y="-7">119</text><text class="mn" x="752" y="-7">120</text>
<use id="m117" href="#pF" x="31"/><use id="m118" href="#fG" x="271"/><use id="m119" href="#pGs" x="511"/><use id="m120" href="#fG" x="751"/>
<rect class="og" x="511" width="225" height="61"/>
<text class="a" x="270" y="76">400</text><text class="b" x="270" y="89.5">356563</text><text class="p" x="270" y="102.5">0.00%</text>
<text class="a" x="510" y="76">400</text><text class="b" x="510" y="89.5">358963</text><text class="p" x="510" y="102.5">0.00%</text>
<text class="a" x="750" y="76">400</text><text class="b" x="750" y="89.5">361363</text><text class="p" x="750" y="102.5">25.00%</text>
<text class="a" x="990" y="76">400</text><text class="b" x="990" y="89.5">363763</text><text class="p" x="990" y="102.5">25.00%</text>
</g>

<g id="row30" transform="translate(0,4435)">
<use href="#staff"/>
<text class="mn" x="32" y="-7">121</text><text class="mn" x="272" y="-7">122</text><text class="mn" x="512" y="-7">123</text><text class="mn" x="752" y="-7">124</text>
<use id="m121" href="#pF" x="31"/><use id="m122" href="#fG" x="271"/><use id="m123" href="#pH" x="511"/><use id="m124" href="#pI" x="751"/>
<text class="a" x="270" y="76">400</text><text class="b" x="270" y="89.5">366163</text><text class="p" x="270" y="102.5">25.00%</text>
<text class="a" x="510" y="76">400</text><text class="b" x="510" y="89.5">368563</text><text class="p" x="510" y="102.5">25.00%</text>
<text class="a" x="750" y="76">400</text><text class="b" x="750" y="89.5">370963</text><text class="p" x="750" y="102.5">25.00%</text>
<text class="a" x="990" y="76">400</text><text class="b" x="990" y="89.5">373363</text><text class="p" x="990" y="102.5">25.00%</text>
</g>

<g id="row31" transform="translate(0,4576)">
<use href="#staff"/>
<text class="mn" x="32" y="-7">125</text><text class="mn" x="272" y="-7">126</text><text class="mn" x="512" y="-7">127</text><text class="mn" x="752" y="-7">128</text>
<use id="m125" href="#pI" x="31"/><use id="m126" href="#pI" x="271"/><use id="m127" href="#pI" x="511"/><use id="m128" href="#pI" x="751"/>
<text class="a" x="270" y="76">400</text><text class="b" x="270" y="89.5">375763</text><text class="p" x="270" y="102.5">25.00%</text>
<text class="a" x="510" y="76">400</text><text class="b" x="510" y="89.5">378163</text><text class="p" x="510" y="102.5">25.00%</text>
<text class="a" x="750" y="76">400</text><text class="b" x="750" y="89.5">380563</text><text class="p" x="750" y="102.5">25.00%</text>
<text class="a" x="990" y="76">400</text><text class="b" x="990" y="89.5">382963</text><text class="p" x="990" y="102.5">25.00%</text>
</g>

<g id="row32" transform="translate(0,4717)">
<rect class="hl" x="31" y="-10" width="225" height="81"/>
<use href="#staff"/>
<text class="mn" x="32" y="-7">129</text><text class="mn" x="272" y="-7">130</text><text class="mn" x="512" y="-7">131</text><text class="mn" x="752" y="-7">132</text>
<use id="m129" href="#pIs" x="31"/><use id="m130" href="#pI" x="271"/><use id="m131" href="#pI" x="511"/>
<g id="m132" transform="translate(751,0)"><use href="#b"/><use href="#b" x="22.5"/><use href="#o" x="30"/><use href="#b" x="52.5"/><use href="#y" x="60"/><use href="#g" x="75"/><use href="#g" x="82.5"/><use href="#g" x="90"/><use href="#b" x="112.5"/><use href="#y" x="135"/><use href="#r" x="157.5"/><use href="#g" x="180"/></g>
<rect class="og" x="31" width="225" height="61"/>
<text class="a" x="270" y="76">400</text><text class="b" x="270" y="89.5">385363</text><text class="p" x="270" y="102.5">50.00%</text>
<text class="a" x="510" y="76">400</text><text class="b" x="510" y="89.5">387763</text><text class="p" x="510" y="102.5">50.00%</text>
<text class="a" x="750" y="76">400</text><text class="b" x="750" y="89.5">390163</text><text class="p" x="750" y="102.5">50.00%</text>
<text class="a" x="990" y="76">300</text><text class="b" x="990" y="89.5">391963</text><text class="p" x="990" y="102.5">50.00%</text>
</g>

<g id="row33" transform="translate(0,4858)">
<use href="#staff"/>
<text class="mn" x="32" y="-7">133</text><text class="mn" x="272" y="-7">134</text><text class="mn" x="512" y="-7">135</text><text class="mn" x="752" y="-7">136</text>
<use id="m133" href="#fG" x="31"/><use id="m134" href="#fO" x="271"/><use id="m135" href="#fR" x="511"/><use id="m136" href="#pK" x="751"/>
<rect class="or" x="31" width="3" height="61"/><rect class="ob" x="34" width="957" height="61"/>
<text class="a" x="270" y="76">400</text><text class="b" x="270" y="89.5">396763</text><text class="p" x="270" y="102.5">37.80%</text>
<text class="a" x="510" y="76">400</text><text class="b" x="510" y="89.5">401563</text><text class="p" x="510" y="102.5">25.30%</text>
<text class="a" x="750" y="76">400</text><text class="b" x="750" y="89.5">406363</text><text class="p" x="750" y="102.5">12.80%</text>
<text class="a" x="990" y="76">375</text><text class="b" x="990" y="89.5">410863</text><text class="p" x="990" y="102.5">0.30%</text>
</g>

<g id="row34" transform="translate(0,4999)">
<use href="#staff"/>
<text class="mn" x="32" y="-7">137</text><text class="mn" x="272" y="-7">138</text><text class="mn" x="512" y="-7">139</text><text class="mn" x="752" y="-7">140</text>
<use id="m137" href="#fG" x="31"/><use id="m138" href="#fO" x="271"/><use id="m139" href="#fR" x="511"/><use id="m140" href="#pL" x="751"/>
<rect class="ob" x="31" width="480" height="61"/><rect class="or" x="516.5" width="9" height="61"/>
<text class="a" x="270" y="76">400</text><text class="b" x="270" y="89.5">415663</text><text class="p" x="270" y="102.5">0.00%</text>
<text class="a" x="510" y="76">400</text><text class="b" x="510" y="89.5">420463</text><text class="p" x="510" y="102.5">0.00%</text>
<text class="a" x="750" y="76">400</text><text class="b" x="750" y="89.5">423163</text><text class="p" x="750" y="102.5">0.00%</text>
<text class="a" x="990" y="76">400</text><text class="b" x="990" y="89.5">425563</text><text class="p" x="990" y="102.5">0.00%</text>
</g>
</g>
</svg>
